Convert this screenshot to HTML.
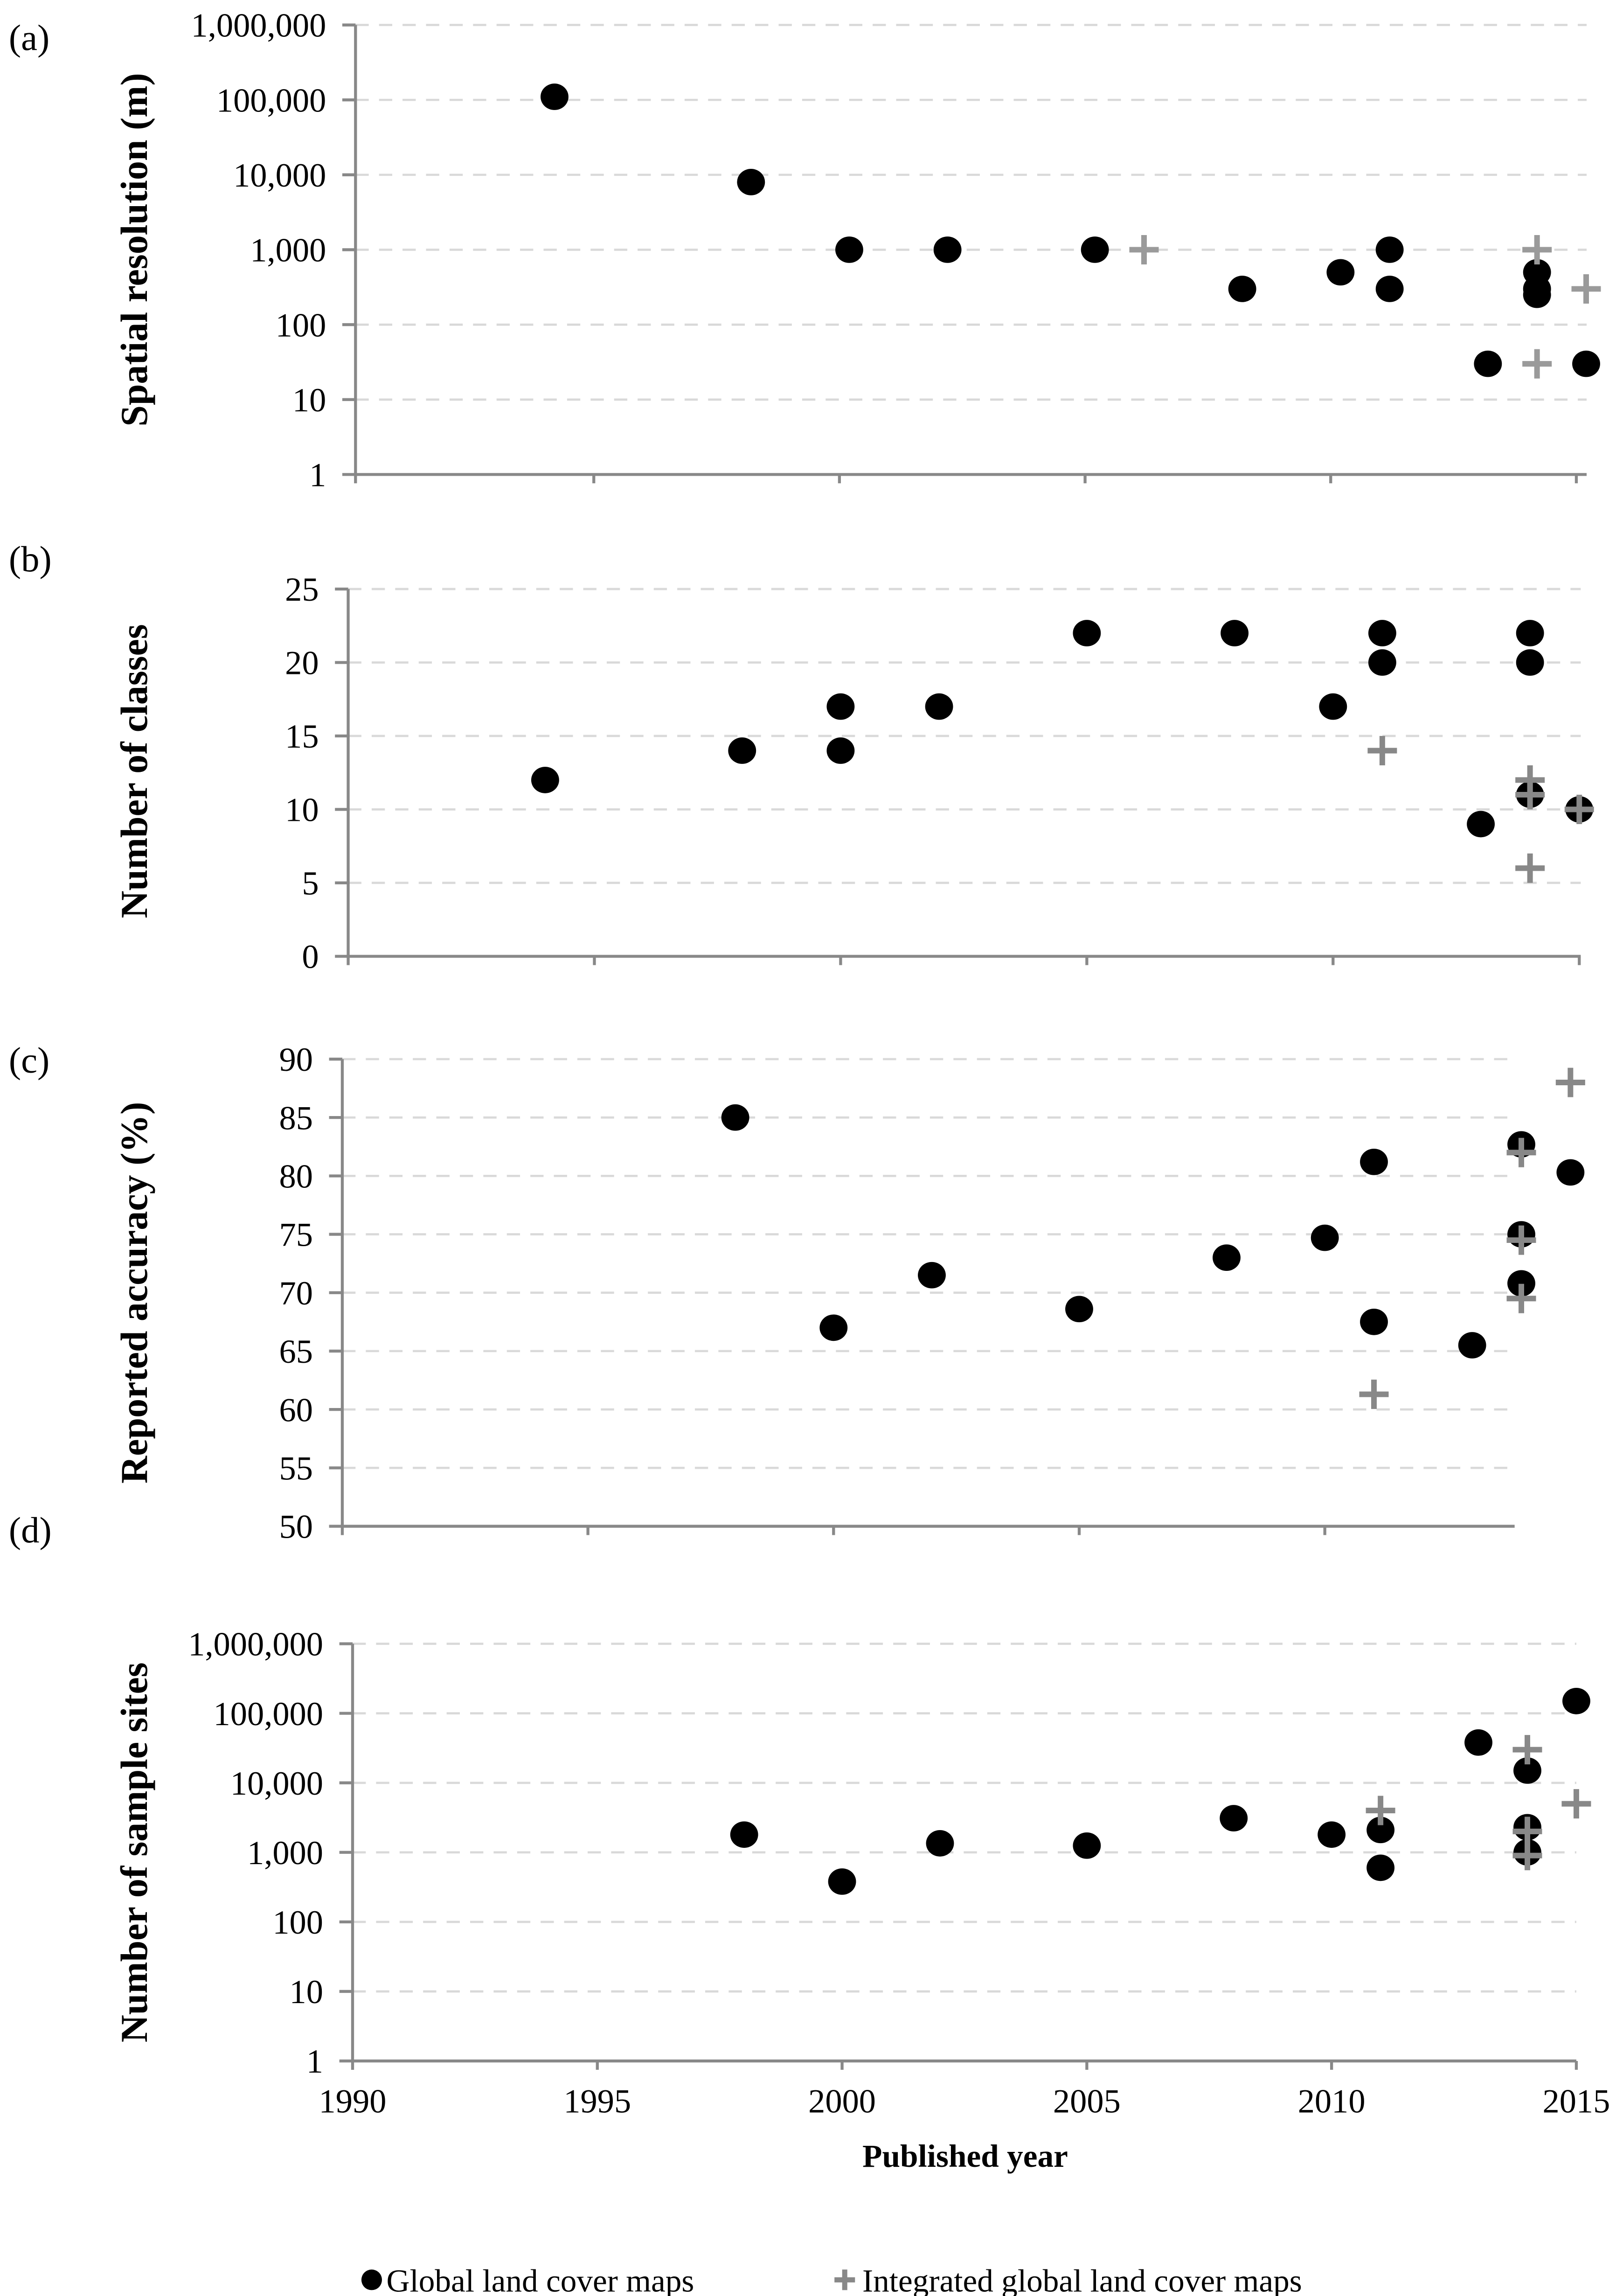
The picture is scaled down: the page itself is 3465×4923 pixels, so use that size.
<!DOCTYPE html>
<html><head><meta charset="utf-8"><style>
html,body{margin:0;padding:0;background:#fff;}
svg{display:block;}
text{font-family:"Liberation Serif",serif;fill:#000;}
</style></head><body>
<svg id="chart" width="3465" height="4923" viewBox="0 0 1100 1563" preserveAspectRatio="none" xmlns="http://www.w3.org/2000/svg"></svg>
<script>
// Panel (a) spatial resolution
const aCircYears=[1994.2,1998.2,2000.2,2002.2,2005.2,2008.2,2010.2,2011.2,2011.2,2013.2,2014.2,2014.2,2014.2,2015.2];
const aCircVals=[110000,8000,1000,1000,1000,300,500,1000,300,30,500,300,250,30];
const aCrossYears=[2006.2,2014.2,2014.2,2015.2];
const aCrossVals=[1000,1000,30,300];
const aTicks=["1","10","100","1,000","10,000","100,000","1,000,000"];
// Panel (b) number of classes
const bCircYears=[1994,1998,2000,2000,2002,2005,2008,2010,2011,2011,2013,2014,2014,2014,2015];
const bCircVals=[12,14,17,14,17,22,22,17,22,20,9,22,20,11,10];
const bCrossYears=[2011,2014,2014,2014,2015];
const bCrossVals=[14,12,11,6,10];
const bTicks=["0","5","10","15","20","25"];
// Panel (c) reported accuracy
const cCircYears=[1998,2000,2002,2005,2008,2010,2011,2011,2013,2014,2014,2014,2015];
const cCircVals=[85,67,71.5,68.6,73,74.7,81.2,67.5,65.5,82.7,75,70.8,80.3];
const cCrossYears=[2011,2014,2014,2014,2015];
const cCrossVals=[61.3,82,74.5,69.5,88];
const cTicks=["50","55","60","65","70","75","80","85","90"];
// Panel (d) number of sample sites
const dCircYears=[1998,2000,2002,2005,2008,2010,2011,2011,2013,2014,2014,2014,2015];
const dCircVals=[1800,380,1350,1250,3100,1800,2100,600,38000,15000,2300,1000,150000];
const dCrossYears=[2011,2014,2014,2014,2015];
const dCrossVals=[4000,30000,2000,900,5000];
const dTicks=["1","10","100","1,000","10,000","100,000","1,000,000"];
const xYears=["1990","1995","2000","2005","2010","2015"];

const NS="http://www.w3.org/2000/svg";
const svg=document.getElementById('chart');
function mk(tag,attrs,parent){const e=document.createElementNS(NS,tag);for(const k in attrs)e.setAttribute(k,attrs[k]);(parent||svg).appendChild(e);return e;}

function panel(cfg){
  const g=mk('g',{});
  
  
  const sx0=cfg.sx0!==undefined?cfg.sx0:cfg.x0;
  const xs=y=>sx0+(y-1990)/25*(cfg.x1-sx0);
  const ys=v=>{const t=cfg.log?(Math.log10(v)-cfg.ymin)/(cfg.ymax-cfg.ymin):(v-cfg.ymin)/(cfg.ymax-cfg.ymin);return cfg.yb-t*(cfg.yb-cfg.yt);};
  const n=cfg.ticks.length;
  for(let i=0;i<n;i++){
    const y=cfg.yb-i*(cfg.yb-cfg.yt)/(n-1);
    if(i>0){const gl=mk('line',{x1:cfg.x0,x2:cfg.xend,y1:y,y2:y,stroke:'#d9d9d9','stroke-width':1.5,'stroke-dasharray':'9,7'},g);
      
      }
    mk('line',{x1:cfg.x0-9,x2:cfg.x0,y1:y,y2:y,stroke:'#888','stroke-width':2},g);
    const t=mk('text',{x:cfg.x0-20,y:y+8,'text-anchor':'end','font-size':23},g);
    t.textContent=cfg.ticks[i];
    
    
  }
  const ya=mk('line',{x1:cfg.x0,x2:cfg.x0,y1:cfg.yt,y2:cfg.yb+6,stroke:'#888','stroke-width':2},g);
  
  
  const xa=mk('line',{x1:cfg.x0,x2:cfg.xend,y1:cfg.yb,y2:cfg.yb,stroke:'#888','stroke-width':2},g);
  
  
  for(let i=1;i<xYears.length;i++){const yr=1990+5*i;const x=Math.max(cfg.x0,xs(yr));if(x<=cfg.xend+1)mk('line',{x1:x,x2:x,y1:cfg.yb,y2:cfg.yb+6,stroke:'#888','stroke-width':2},g);}
  if(cfg.xlabels){for(let i=0;i<xYears.length;i++){const t=mk('text',{x:xs(1990+5*i),y:cfg.yb+35,'text-anchor':'middle','font-size':23},g);t.textContent=xYears[i];
    
    }}
  const tt=mk('text',{transform:`translate(${cfg.titleX},${cfg.titleY}) rotate(-90)`,'text-anchor':'middle','font-size':26,'font-weight':'bold'},g);
  tt.textContent=cfg.title;
  
  
  const pl=mk('text',{x:6,y:cfg.labY,'font-size':25},g);pl.textContent=cfg.lab;
  
  
  cfg.cy.forEach((yr,i)=>{const c=mk('ellipse',{cx:xs(yr),cy:ys(cfg.cv[i]),rx:9.5,ry:9,fill:'#000'},g);
    
    });
  cfg.xy.forEach((yr,i)=>{const x=xs(yr),y=ys(cfg.xv[i]);const p=mk('path',{d:`M${x-10},${y}H${x+10}M${x},${y-10}V${y+10}`,stroke:cfg.crossCol,'stroke-width':3.8,fill:'none'},g);
    
    });
}
panel({name:'panel-a-spatial-resolution',x0:242,sx0:237,x1:1073,xend:1080,yt:17,yb:323,log:true,ymin:0,ymax:6,ticks:aTicks,cy:aCircYears,cv:aCircVals,xy:aCrossYears,xv:aCrossVals,title:'Spatial resolution (m)',titleX:100,titleY:170,lab:'(a)',labY:34,crossCol:'#9a9a9a'});
panel({name:'panel-b-number-of-classes',x0:237,x1:1075,xend:1076,yt:401,yb:651,log:false,ymin:0,ymax:25,ticks:bTicks,cy:bCircYears,cv:bCircVals,xy:bCrossYears,xv:bCrossVals,title:'Number of classes',titleX:100,titleY:525,lab:'(b)',labY:389,crossCol:'#888'});
panel({name:'panel-c-reported-accuracy',x0:233,x1:1069,xend:1031,yt:721,yb:1039,log:false,ymin:50,ymax:90,ticks:cTicks,cy:cCircYears,cv:cCircVals,xy:cCrossYears,xv:cCrossVals,title:'Reported accuracy (%)',titleX:100,titleY:880,lab:'(c)',labY:730,crossCol:'#888'});
panel({name:'panel-d-sample-sites',x0:240,x1:1073,xend:1073,yt:1119,yb:1403,log:true,ymin:0,ymax:6,ticks:dTicks,cy:dCircYears,cv:dCircVals,xy:dCrossYears,xv:dCrossVals,title:'Number of sample sites',titleX:100,titleY:1261,lab:'(d)',labY:1050,crossCol:'#888',xlabels:true});

const xt=mk('text',{x:657,y:1475,'text-anchor':'middle','font-size':22,'font-weight':'bold'});
xt.textContent='Published year';


const lg=mk('g',{});


const lc=mk('circle',{cx:253,cy:1552,r:7,fill:'#000'},lg);


const l1=mk('text',{x:263,y:1560,'font-size':22},lg);l1.textContent='Global land cover maps';


const lp=mk('path',{d:'M568,1552H582M575,1545V1559',stroke:'#888','stroke-width':3.5},lg);


const l2=mk('text',{x:587,y:1560,'font-size':22},lg);l2.textContent='Integrated global land cover maps';


</script>
</body></html>
